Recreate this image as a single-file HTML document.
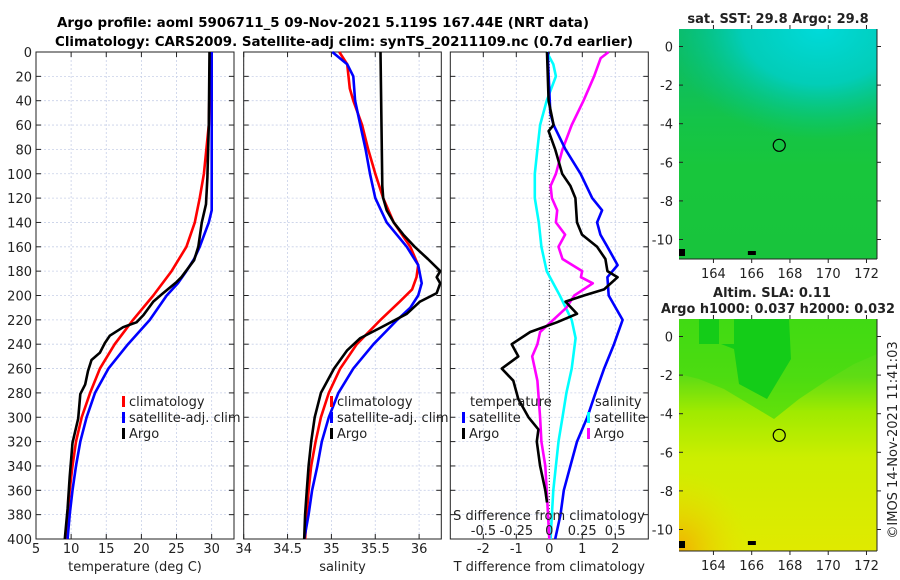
<!DOCTYPE html>
<html><head><meta charset="utf-8">
<style>
html,body{margin:0;padding:0;background:#fff;}
svg{display:block;font-family:"DejaVu Sans","Liberation Sans",sans-serif;}
</style></head>
<body>
<svg id="fig" width="900" height="580" viewBox="0 0 900 580" xmlns="http://www.w3.org/2000/svg">
<defs>
<linearGradient id="sstBase" x1="0" y1="0" x2="0" y2="1">
<stop offset="0" stop-color="#0cbb66"/><stop offset="0.25" stop-color="#10bf58"/><stop offset="0.4" stop-color="#14c448"/><stop offset="0.6" stop-color="#18c63c"/><stop offset="1" stop-color="#18c43c"/>
</linearGradient>
<radialGradient id="sstCyan" cx="0.7" cy="0" r="0.6" gradientTransform="translate(-0.2,0) scale(1.3,0.8)">
<stop offset="0" stop-color="#00dada" stop-opacity="1"/><stop offset="0.5" stop-color="#00d0c8" stop-opacity="0.85"/><stop offset="1" stop-color="#00c890" stop-opacity="0"/>
</radialGradient>
<linearGradient id="slaBase" x1="0" y1="0" x2="0" y2="1">
<stop offset="0" stop-color="#38d81c"/><stop offset="0.25" stop-color="#60dc14"/><stop offset="0.4" stop-color="#a0ea00"/><stop offset="0.6" stop-color="#ccee00"/><stop offset="1" stop-color="#e0ea00"/>
</linearGradient>
<radialGradient id="slaOrange" cx="0" cy="1" r="0.35">
<stop offset="0" stop-color="#f0b000"/><stop offset="1" stop-color="#e8e000" stop-opacity="0"/>
</radialGradient>
</defs>
<text x="57" y="27" font-size="13" font-weight="bold" textLength="532" lengthAdjust="spacingAndGlyphs">Argo profile: aoml 5906711_5 09-Nov-2021 5.119S 167.44E (NRT data)</text>
<text x="55" y="46" font-size="13" font-weight="bold" textLength="578" lengthAdjust="spacingAndGlyphs">Climatology: CARS2009. Satellite-adj clim: synTS_20211109.nc (0.7d earlier)</text>
<g id="plots"></g>
</svg>
<script>
// ---- data (depth in m) ----
const tArgoDepth = [0,60,103,125,140,160,171,185,189,199,205,216,222,226,233,239,247,253,262,273,281,301,321,349,375,400];
const tArgo      = [29.7,29.6,29.4,29.2,28.6,28.1,27.5,25.7,25.0,22.9,21.7,20.3,19.3,17.4,15.5,14.8,14.1,12.9,12.4,12.0,11.3,11.0,10.2,9.8,9.5,9.1];
const tClimDepth = [0,60,100,120,140,160,180,200,220,240,260,280,300,320,340,360,380,400];
const tClim      = [29.8,29.6,28.9,28.3,27.6,26.4,24.3,21.7,18.8,16.2,14.1,12.7,11.5,10.7,10.2,9.8,9.5,9.3];
const tSatDepth  = [0,130,140,160,170,180,190,200,220,240,260,280,300,320,340,360,380,400];
const tSat       = [30.0,30.0,29.6,28.3,27.5,26.4,25.2,23.6,21.2,18.1,15.3,13.4,12.2,11.3,10.7,10.2,9.8,9.5];

const sArgoDepth = [0,110,120,130,140,150,160,170,180,185,190,198,205,215,225,235,245,255,260,280,300,320,340,360,380,400];
const sArgo      = [35.56,35.58,35.59,35.63,35.71,35.82,35.95,36.1,36.24,36.2,36.24,36.2,36.01,35.86,35.6,35.33,35.18,35.08,35.03,34.88,34.81,34.77,34.74,34.72,34.7,34.69];
const sClimDepth = [0,10,30,40,60,80,100,120,140,160,175,185,195,205,220,240,260,280,300,320,340,360,380,400];
const sClim      = [35.09,35.18,35.21,35.25,35.35,35.42,35.5,35.59,35.71,35.9,35.99,35.97,35.92,35.78,35.56,35.29,35.1,34.97,34.88,34.82,34.77,34.74,34.72,34.7];
const sSatDepth  = [0,10,20,30,40,60,80,100,120,140,160,175,190,200,210,220,240,260,280,300,320,340,360,380,400];
const sSat       = [35.01,35.18,35.25,35.26,35.27,35.33,35.39,35.44,35.5,35.63,35.86,35.99,36.03,35.99,35.9,35.75,35.48,35.25,35.08,34.97,34.89,34.84,34.78,34.74,34.69];

const dTSatDepth = [0,50,60,80,100,120,130,140,150,160,175,185,200,220,240,260,280,300,320,340,360,380,400];
const dTSat      = [-0.05,0.03,0.13,0.49,0.95,1.3,1.6,1.45,1.55,1.76,2.07,1.76,1.8,2.22,1.96,1.66,1.4,1.15,0.84,0.64,0.44,0.34,0.18];
const dTArgoDepth= [0,40,60,65,80,100,110,120,140,150,160,170,180,185,195,200,205,215,222,230,240,250,260,270,285,300,310,320,340,360,370];
const dTArgo     = [-0.07,-0.02,0.13,-0.02,0.18,0.39,0.64,0.79,0.84,0.99,1.45,1.7,1.76,2.07,1.66,1.05,0.49,0.84,0.23,-0.58,-1.14,-0.94,-1.44,-1.09,-0.94,-0.63,-0.33,-0.38,-0.28,-0.12,-0.07];
const dSSatDepth = [0,10,20,40,60,80,100,120,140,160,180,200,220,235,260,280,300,320,340,360,380,400];
const dSSat      = [-0.02,0.03,0.05,-0.02,-0.07,-0.09,-0.11,-0.11,-0.08,-0.06,-0.02,0.08,0.17,0.2,0.17,0.13,0.1,0.07,0.05,0.03,0.02,0.01];
const dSArgoDepth= [0,5,20,40,60,80,100,110,120,130,140,150,160,170,180,185,190,200,210,222,230,240,250,270,300,320,340,360,380,400];
const dSArgo     = [0.45,0.39,0.34,0.26,0.17,0.1,0.05,0.01,0.02,0.06,0.05,0.12,0.07,0.1,0.25,0.24,0.33,0.19,0.13,0.01,-0.07,-0.09,-0.13,-0.09,-0.07,-0.06,-0.03,-0.02,-0.01,0.0];

const depthTicks = [0,20,40,60,80,100,120,140,160,180,200,220,240,260,280,300,320,340,360,380,400];
const tTicks = [5,10,15,20,25,30];
const sTicks = [34,34.5,35,35.5,36];
const dTTicks = [-2,-1,0,1,2];
const dSTicks = [-0.5,-0.25,0,0.25,0.5];
const dSTickLabels = ["-0.5","-0.25","0","0.25","0.5"];
const latTicks = [0,-2,-4,-6,-8,-10];
const lonTicks = [164,166,168,170,172];

const NS = "http://www.w3.org/2000/svg";
const root = document.getElementById('plots');
function el(tag, attrs, parent){const e=document.createElementNS(NS,tag);for(const k in attrs)e.setAttribute(k,attrs[k]);(parent||root).appendChild(e);return e;}
function txt(x,y,s,attrs,parent){const e=el('text',Object.assign({x:x,y:y,'font-size':13,fill:'#222'},attrs||{}),parent);e.textContent=s;return e;}

const Y0=52, Y1=539;
const yD = d => Y0 + d*(Y1-Y0)/400;

function panel(name,x0,x1,xmin,xmax,xticks,xlabels,xtitle,showY){
  const g=el('g',{});
  
  
  const sx=v=>x0+(v-xmin)*(x1-x0)/(xmax-xmin);
  depthTicks.forEach(d=>{
    const l=el('line',{x1:x0,x2:x1,y1:yD(d),y2:yD(d),stroke:'#c8d0e8','stroke-width':0.8,'stroke-dasharray':'2,2'},g);
    
    
    el('line',{x1:x0,x2:x0+5,y1:yD(d),y2:yD(d),stroke:'#222'},g);
    el('line',{x1:x1-5,x2:x1,y1:yD(d),y2:yD(d),stroke:'#222'},g);
    if(showY){const t=txt(x0-4,yD(d)+5,String(d),{'text-anchor':'end'},g);
      
      }
  });
  xticks.forEach((v,i)=>{
    const l=el('line',{x1:sx(v),x2:sx(v),y1:Y0,y2:Y1,stroke:'#c8d0e8','stroke-width':0.8,'stroke-dasharray':'2,2'},g);
    
    
    el('line',{x1:sx(v),x2:sx(v),y1:Y1,y2:Y1-5,stroke:'#222'},g);
    el('line',{x1:sx(v),x2:sx(v),y1:Y0,y2:Y0+5,stroke:'#222'},g);
    const t=txt(sx(v),553,xlabels[i],{'text-anchor':'middle'},g);
    
    
  });
  const r=el('rect',{x:x0,y:Y0,width:x1-x0,height:Y1-Y0,fill:'none',stroke:'#222','stroke-width':1},g);
  
  
  const tt=txt((x0+x1)/2,571,xtitle,{'text-anchor':'middle'},g);
  
  
  return {g,sx};
}
function line(p,depths,vals,color,name,sx){
  const pts=depths.map((d,i)=>(sx||p.sx)(vals[i]).toFixed(1)+','+yD(d).toFixed(1)).join(' ');
  const e=el('polyline',{points:pts,fill:'none',stroke:color,'stroke-width':2.6,'stroke-linejoin':'round'},p.g);
  
  
}
function legendEntry(g,x,y,color,label){
  const m=el('rect',{x:x,y:y-10,width:3,height:11,fill:color},g);
  
  
  const t=txt(x+7,y,label,{},g);
  
  
}

// Panel 1: temperature
const p1=panel('temperature-panel',36,234,5,33.18,tTicks,tTicks.map(String),'temperature (deg C)',true);
line(p1,tClimDepth,tClim,'#ff0000','climatology-temp-line');
line(p1,tSatDepth,tSat,'#0000ff','satellite-adj-temp-line');
line(p1,tArgoDepth,tArgo,'#000000','argo-temp-line');
legendEntry(p1.g,122,406,'#ff0000','climatology');
legendEntry(p1.g,122,422,'#0000ff','satellite-adj. clim');
legendEntry(p1.g,122,438,'#000000','Argo');

// Panel 2: salinity
const p2=panel('salinity-panel',243.7,441.3,34,36.253,sTicks,sTicks.map(String),'salinity',false);
line(p2,sClimDepth,sClim,'#ff0000','climatology-salinity-line');
line(p2,sSatDepth,sSat,'#0000ff','satellite-adj-salinity-line');
line(p2,sArgoDepth,sArgo,'#000000','argo-salinity-line');
legendEntry(p2.g,330,406,'#ff0000','climatology');
legendEntry(p2.g,330,422,'#0000ff','satellite-adj. clim');
legendEntry(p2.g,330,438,'#000000','Argo');

// Panel 3: differences
const p3=panel('difference-panel',450.3,648.3,-3,3,dTTicks,dTTicks.map(String),'T difference from climatology',false);
const sxS=v=>549.3+v*131.7;
const zl=el('line',{x1:549.3,x2:549.3,y1:Y0,y2:Y1,stroke:'#333','stroke-width':1,'stroke-dasharray':'1,2'},p3.g);


line(p3,dSSatDepth,dSSat,'#00ffff','satellite-salinity-diff-line',sxS);
line(p3,dSArgoDepth,dSArgo,'#ff00ff','argo-salinity-diff-line',sxS);
line(p3,dTSatDepth,dTSat,'#0000ff','satellite-temp-diff-line');
line(p3,dTArgoDepth,dTArgo,'#000000','argo-temp-diff-line');
const lt=txt(470,406,'temperature',{},p3.g);


const ls=txt(595,406,'salinity',{},p3.g);


legendEntry(p3.g,462,422,'#0000ff','satellite');
legendEntry(p3.g,462,438,'#000000','Argo');
legendEntry(p3.g,587,422,'#00ffff','satellite');
legendEntry(p3.g,587,438,'#ff00ff','Argo');
const st=txt(549,520,'S difference from climatology',{'text-anchor':'middle'},p3.g);


dSTicks.forEach((v,i)=>{const t=txt(sxS(v),535,dSTickLabels[i],{'text-anchor':'middle'},p3.g);
  
  });

// Maps
function map(name,top,bottom,fillFn,title1,title2){
  const g=el('g',{});
  
  
  const L=679,R=877, lonMin=162.2, lonMax=172.55;
  const lx=v=>L+(v-lonMin)*(R-L)/(lonMax-lonMin);
  const y0lat=top+17.5, ppd=19.3;
  const ly=v=>y0lat-v*ppd;
  fillFn(g,L,top,R-L,bottom-top);
  latTicks.forEach(v=>{
    el('line',{x1:L,x2:L+4,y1:ly(v),y2:ly(v),stroke:'#222'},g);
    el('line',{x1:R,x2:R+4,y1:ly(v),y2:ly(v),stroke:'#222'},g);
    const t=txt(673,ly(v)+5,String(v),{'text-anchor':'end'},g);
    
    
  });
  lonTicks.forEach(v=>{
    el('line',{x1:lx(v),x2:lx(v),y1:top,y2:top-4,stroke:'#222'},g);
    el('line',{x1:lx(v),x2:lx(v),y1:bottom,y2:bottom+4,stroke:'#222'},g);
    const t=txt(lx(v),bottom+19,String(v),{'text-anchor':'middle'},g);
    
    
  });
  el('line',{x1:R,x2:R,y1:top,y2:bottom,stroke:'#222'},g);
  el('line',{x1:L,x2:R,y1:bottom,y2:bottom,stroke:'#222'},g);
  const c=el('circle',{cx:lx(167.44),cy:ly(-5.119),r:6,fill:'none',stroke:'#000','stroke-width':1.2},g);
  
  
  el('rect',{x:L,y:bottom-10,width:6,height:7,fill:'#000'},g);
  el('rect',{x:lx(165.8),y:ly(-10.7)-2,width:8,height:4,fill:'#000'},g);
  const t1=txt(title2?772:778,title2?297:23,title1,{'text-anchor':'middle','font-weight':'bold'},g);
  
  
  if(title2){const t2=txt(778,313,title2,{'text-anchor':'middle','font-weight':'bold',textLength:234,lengthAdjust:'spacingAndGlyphs'},g);
    
    }
}
map('sst-map',29,259,(g,x,y,w,h)=>{
  el('rect',{x:x,y:y,width:w,height:h,fill:'url(#sstBase)'},g);
  el('rect',{x:x,y:y,width:w,height:h,fill:'url(#sstCyan)'},g);
},'sat. SST: 29.8 Argo: 29.8');
map('sla-map',319,551,(g,x,y,w,h)=>{
  el('rect',{x:x,y:y,width:w,height:h,fill:'url(#slaBase)'},g);
  el('rect',{x:x,y:y,width:w,height:h,fill:'url(#slaOrange)'},g);
  el('path',{d:`M${x} ${y} L${x+198} ${y} L${x+198} ${y+35} L${x+175} ${y+45} L${x+150} ${y+60} L${x+120} ${y+80} L${x+95} ${y+100} L${x+70} ${y+85} L${x+45} ${y+70} L${x+20} ${y+60} L${x} ${y+55} Z`,fill:'#44dc10','fill-opacity':0.7},g);
  el('path',{d:`M${x+20} ${y} L${x+40} ${y} L${x+40} ${y+25} L${x+55} ${y+25} L${x+55} ${y} L${x+110} ${y} L${x+112} ${y+40} L${x+100} ${y+60} L${x+88} ${y+80} L${x+60} ${y+65} L${x+55} ${y+30} L${x+42} ${y+25} L${x+20} ${y+25} Z`,fill:'#14cc18'},g);
},'Altim. SLA: 0.11','Argo h1000: 0.037 h2000: 0.032');

const cr=txt(0,0,'©IMOS 14-Nov-2021 11:41:03',{'text-anchor':'middle',transform:'translate(897,440) rotate(-90)'});


</script>
</body></html>
